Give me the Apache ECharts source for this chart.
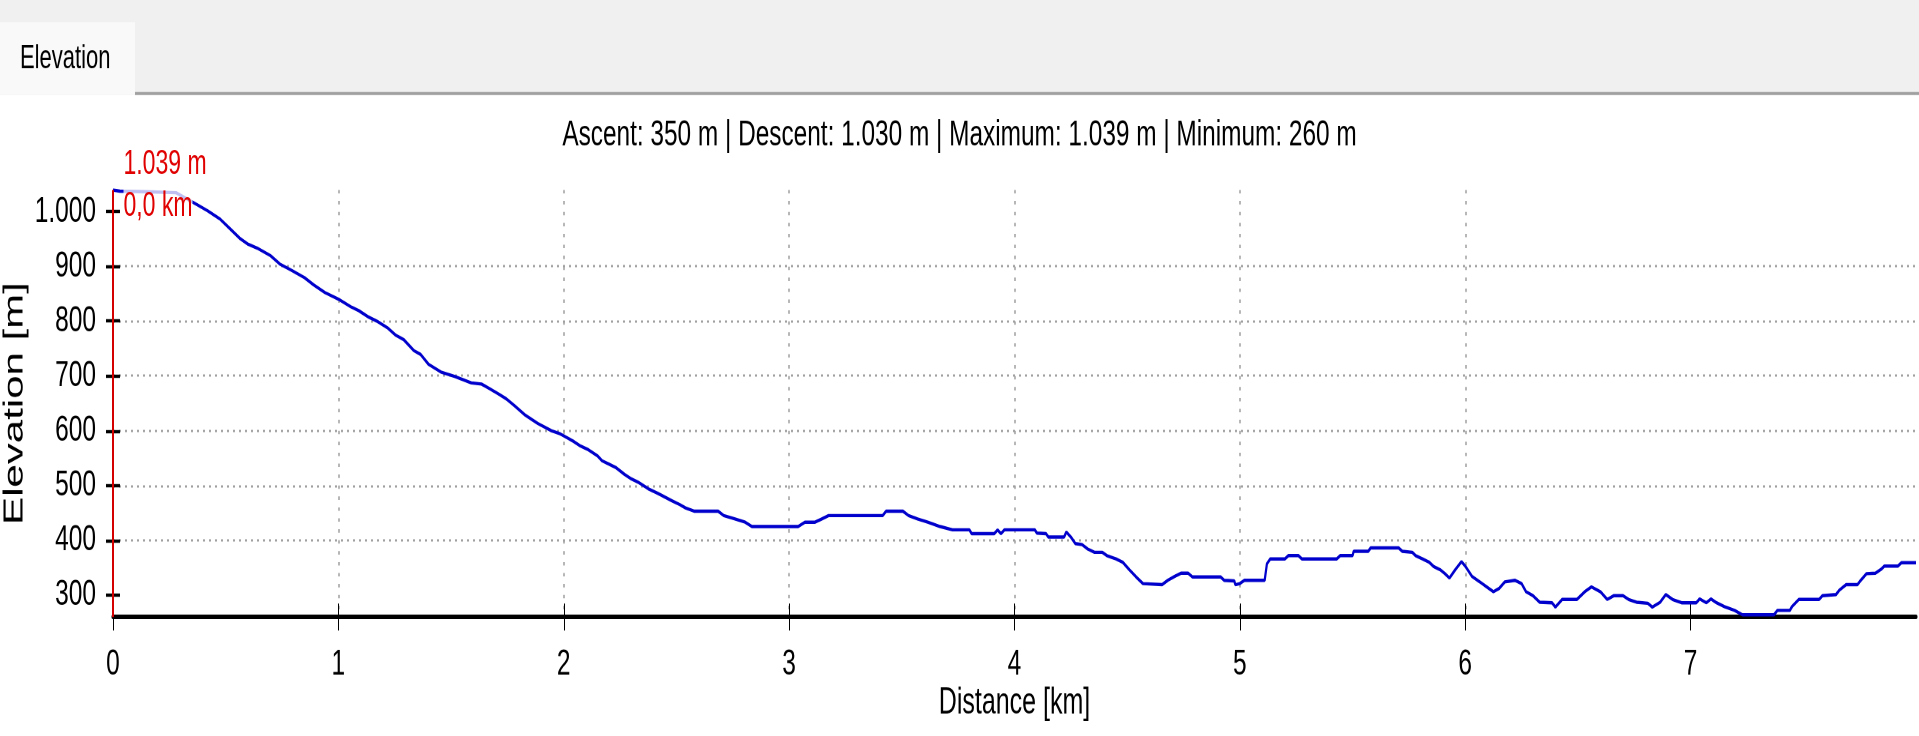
<!DOCTYPE html>
<html>
<head>
<meta charset="utf-8">
<script src="https://cdn.jsdelivr.net/npm/echarts@6/dist/echarts.min.js"></script>
<style>
html,body{margin:0;padding:0;background:#fff;overflow:hidden;}
#wrap{width:1919px;height:736px;overflow:hidden;position:relative;}
#c{width:1919px;height:491px;transform:scaleY(1.499);transform-origin:0 0;}
</style>
</head>
<body>
<div id="wrap"><div id="c"></div></div>
<script>
// ---- data ----
const distKm = [0,0.03,0.15,0.28,0.37,0.42,0.475,0.52,0.565,0.60,0.64,0.70,0.74,0.79,0.85,0.89,0.94,1.00,1.055,1.09,1.135,1.17,1.22,1.255,1.29,1.335,1.365,1.40,1.455,1.515,1.59,1.635,1.665,1.71,1.745,1.78,1.83,1.885,1.945,1.985,2.015,2.045,2.07,2.11,2.15,2.17,2.2,2.23,2.27,2.30,2.33,2.375,2.42,2.48,2.515,2.54,2.58,2.685,2.71,2.76,2.805,2.835,3.04,3.07,3.115,3.145,3.175,3.415,3.43,3.505,3.53,3.57,3.615,3.67,3.725,3.80,3.81,3.91,3.925,3.94,3.955,4.09,4.10,4.14,4.15,4.22,4.23,4.25,4.27,4.30,4.325,4.355,4.39,4.41,4.45,4.48,4.51,4.54,4.57,4.655,4.68,4.71,4.74,4.77,4.79,4.915,4.93,4.975,4.98,5.00,5.02,5.11,5.12,5.135,5.20,5.215,5.26,5.275,5.43,5.445,5.50,5.505,5.57,5.58,5.705,5.72,5.765,5.78,5.81,5.84,5.86,5.89,5.91,5.93,5.955,5.983,6.00,6.03,6.065,6.095,6.125,6.15,6.175,6.22,6.25,6.27,6.30,6.33,6.385,6.40,6.43,6.495,6.53,6.56,6.60,6.63,6.66,6.70,6.725,6.76,6.81,6.83,6.865,6.89,6.92,6.96,7.025,7.04,7.07,7.09,7.115,7.15,7.195,7.23,7.37,7.385,7.44,7.45,7.48,7.57,7.585,7.645,7.66,7.69,7.74,7.755,7.78,7.82,7.845,7.86,7.92,7.935,8.00];
const elevM = [1039,1037,1036,1034,1013,1001,986,968,950,940,933,919,904,893,879,866,852,840,826,819,807,800,787,774,766,746,739,721,707,699,687,685,678,667,658,646,628,613,600,594,587,580,573,565,554,545,539,533,520,512,506,494,485,472,465,459,453,453,445,439,433,425,425,433,433,439,445,445,453,453,445,439,433,425,419,419,412,412,419,412,419,419,413,412,406,406,415,406,394,392,384,378,378,372,366,360,346,333,321,319,327,334,340,340,333,333,327,326,319,321,327,327,357,366,366,372,372,366,366,372,372,380,380,386,386,380,378,372,366,360,352,346,339,331,346,361,353,334,324,315,306,312,324,327,321,306,299,287,286,278,292,292,306,315,306,292,299,299,292,287,285,278,287,301,292,286,286,293,286,293,286,279,272,264,264,272,272,279,292,292,299,301,309,319,319,327,339,340,347,353,353,359,359];
const xTicks = [0,1,2,3,4,5,6,7];
const yTicks = [300,400,500,600,700,800,900,1000];
const statsTitle = 'Ascent: 350 m | Descent: 1.030 m | Maximum: 1.039 m | Minimum: 260 m';
const tabLabel = 'Elevation';
const xName = 'Distance [km]';
const yName = 'Elevation [m]';
const yMin = 260, yMax = 1039, xMin = 0, xMax = 8;
const markerLabels = ['1.039 m', '0,0 km'];

const FONT = "'Liberation Sans',Arial,Helvetica,sans-serif";
const fmtThousands = v => String(v).replace(/\B(?=(\d{3})+(?!\d))/g, '.');
const seriesData = distKm.map((d, i) => [d, elevM[i]]);

const chart = echarts.init(document.getElementById('c'), null, {renderer: 'canvas', devicePixelRatio: 2});
chart.setOption({
  animation: false,
  backgroundColor: '#ffffff',
  textStyle: {fontFamily: FONT},
  title: {
    text: statsTitle, left: 'center', top: 73,
    textStyle: {fontFamily: FONT, fontSize: 24.4, lineHeight: 25, fontWeight: 'normal', color: '#000'}
  },
  graphic: [
    {type: 'rect', left: 0, top: 0, shape: {width: 1919, height: 63.4}, style: {fill: '#f0f0f0'}, z: -10},
    {type: 'rect', left: 135, top: 61.4, shape: {width: 1784, height: 2}, style: {fill: '#a0a0a0'}, z: -9},
    {type: 'rect', left: 0, top: 14.7, shape: {width: 135, height: 48.7}, style: {fill: '#f9f9f9'}, z: -8},
    {type: 'text', left: 20, top: 28.5, style: {text: tabLabel, font: "22px " + FONT, fill: '#000'}, z: 10}
  ],
  grid: {left: 113, right: 3, top: 126.75, bottom: 79.4, containLabel: false, outerBoundsMode: 'none'},
  xAxis: [{
    type: 'value', min: xMin, max: xMax, interval: 1,
    name: xName, nameLocation: 'middle', nameGap: 45, nameMoveOverlap: false,
    nameTextStyle: {fontFamily: FONT, fontSize: 25, color: '#000'},
    axisLine: {show: true, onZero: false, lineStyle: {color: '#000', width: 3}},
    axisTick: {show: true, customValues: xTicks, length: 9, lineStyle: {color: '#000', width: 1}},
    axisLabel: {customValues: xTicks, margin: 19, fontFamily: FONT, fontSize: 24.5, color: '#000'},
    splitLine: {show: true, showMinLine: false, showMaxLine: false, lineStyle: {color: '#a0a0a0', width: 1.5, type: [2.3, 5]}}
  }, {
    type: 'value', min: xMin, max: xMax, interval: 1, position: 'bottom',
    axisLine: {show: false},
    axisTick: {show: true, inside: true, customValues: xTicks, length: 9, lineStyle: {color: '#000', width: 1}},
    axisLabel: {show: false}, splitLine: {show: false}
  }],
  yAxis: [{
    type: 'value', min: yMin, max: yMax, splitNumber: 8,
    name: yName, nameLocation: 'middle', nameGap: 84, nameMoveOverlap: false,
    nameTextStyle: {fontFamily: FONT, fontSize: 28, color: '#000'},
    axisLine: {show: false},
    axisTick: {show: true, customValues: yTicks, length: 7, lineStyle: {color: '#000', width: 2.2}},
    axisLabel: {customValues: yTicks, margin: 17, fontFamily: FONT, fontSize: 24.5, color: '#000', formatter: fmtThousands},
    splitLine: {show: true, showMinLine: false, showMaxLine: false, lineStyle: {color: '#a0a0a0', width: 1.4, type: [2, 4]}}
  }, {
    type: 'value', min: yMin, max: yMax, splitNumber: 8, position: 'left',
    axisLine: {show: false},
    axisTick: {show: true, inside: true, customValues: yTicks, length: 7, lineStyle: {color: '#000', width: 2.2}},
    axisLabel: {show: false}, splitLine: {show: false}
  }],
  series: [{
    type: 'line', xAxisIndex: 0, yAxisIndex: 0,
    data: seriesData, showSymbol: false, symbol: 'none',
    lineStyle: {color: '#0000cc', width: 2.2},
    z: 3,
    markLine: {
      silent: true, symbol: ['none', 'none'],
      lineStyle: {color: '#d40000', width: 2, type: 'solid'},
      label: {show: false},
      data: [{xAxis: distKm[0]}]
    },
    markPoint: {
      silent: true, symbol: 'circle', symbolSize: 1,
      itemStyle: {color: 'rgba(0,0,0,0)'},
      label: {
        show: true, position: 'right', distance: 10, offset: [0, -3],
        formatter: '{a|' + markerLabels[0] + '}\n{b|' + markerLabels[1] + '}',
        rich: {
          a: {fontFamily: FONT, fontSize: 23, color: '#e00000', lineHeight: 28},
          b: {fontFamily: FONT, fontSize: 23, color: '#e00000', lineHeight: 28, backgroundColor: 'rgba(255,255,255,0.75)'}
        }
      },
      data: [{coord: [distKm[0], elevM[0]]}]
    }
  }]
});
</script>
</body>
</html>
